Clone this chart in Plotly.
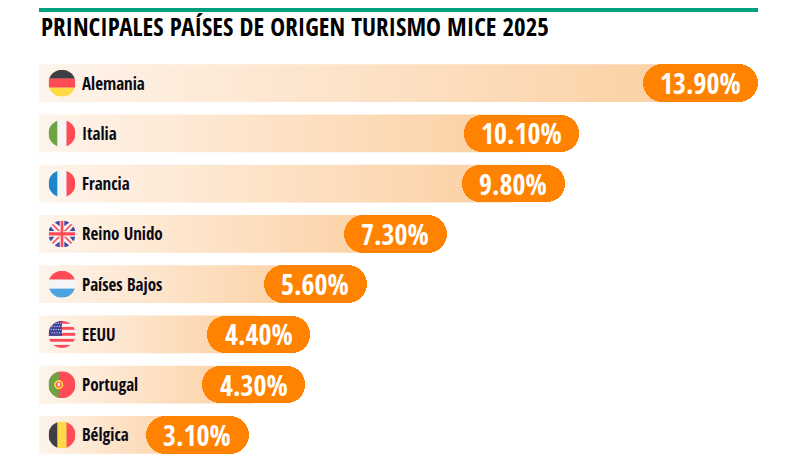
import base64
import plotly.graph_objects as go

# data
countries = ["Alemania", "Italia", "Francia", "Reino Unido", "Países Bajos", "EEUU", "Portugal", "Bélgica"]
shares = [13.9, 10.1, 9.8, 7.3, 5.6, 4.4, 4.3, 3.1]
flag_codes = ["de", "it", "fr", "gb", "nl", "us", "pt", "be"]
title = "PRINCIPALES PAÍSES DE ORIGEN TURISMO MICE 2025"

FONT = "Open Sans Condensed, Roboto Condensed, DejaVu Sans Condensed, sans-serif"
ORANGE = "#FF8200"
GREEN = "#00A07E"

# the page body adds an 8px offset, margins compensate for it
W, H = 800, 460
M_L, M_R, M_T, M_B = 31, 50, 50, 8
plot_w = W - M_L - M_R
plot_h = H - M_T - M_B
x_min = -1.35
x_max = max(shares)
px_per_unit = plot_w / (x_max - x_min)
half = 0.375  # half bar thickness in row units

R, WH, DK, YE, GR, BL, LB, NV = "#FF4B55", "#F5F5F5", "#3D3F45", "#FFDA44", "#6DA544", "#1E86CC", "#4BA3E0", "#41479B"


def stripes_h(cols):
    h = 100 / len(cols)
    return "".join(f'<rect x="0" y="{i*h}" width="100" height="{h+0.5}" fill="{c}"/>' for i, c in enumerate(cols))


def stripes_v(cols):
    w = 100 / len(cols)
    return "".join(f'<rect x="{i*w}" y="0" width="{w+0.5}" height="100" fill="{c}"/>' for i, c in enumerate(cols))


def flag_body(code):
    if code == "de":
        return stripes_h([DK, R, YE])
    if code == "it":
        return stripes_v([GR, WH, R])
    if code == "fr":
        return stripes_v([BL, WH, R])
    if code == "nl":
        return stripes_h([R, WH, LB])
    if code == "be":
        return stripes_v([DK, YE, R])
    if code == "pt":
        return (f'<rect width="100" height="100" fill="{R}"/><rect width="38" height="100" fill="{GR}"/>'
                f'<circle cx="38" cy="50" r="17" fill="{YE}"/><circle cx="38" cy="50" r="11" fill="{R}"/>'
                f'<rect x="33" y="43" width="10" height="13" fill="{WH}"/>')
    if code == "us":
        s = "".join(f'<rect x="0" y="{i*100/9}" width="100" height="{100/9}" fill="{R if i % 2 == 0 else WH}"/>' for i in range(9))
        s += f'<rect x="0" y="0" width="50" height="{500/9}" fill="{NV}"/>'
        for r in range(4):
            for c in range(5):
                s += f'<circle cx="{10 + c*9 + (r % 2)*4}" cy="{8 + r*12}" r="2.2" fill="{WH}"/>'
        return s
    if code == "gb":
        return (f'<rect width="100" height="100" fill="{WH}"/>'
                f'<polygon points="12,0 42,0 42,22" fill="{NV}"/><polygon points="58,0 88,0 58,22" fill="{NV}"/>'
                f'<polygon points="12,100 42,100 42,78" fill="{NV}"/><polygon points="58,100 88,100 58,78" fill="{NV}"/>'
                f'<polygon points="0,12 0,40 22,40" fill="{NV}"/><polygon points="100,12 100,40 78,40" fill="{NV}"/>'
                f'<polygon points="0,60 0,88 22,60" fill="{NV}"/><polygon points="100,60 100,88 78,60" fill="{NV}"/>'
                f'<line x1="0" y1="0" x2="100" y2="100" stroke="{R}" stroke-width="6"/>'
                f'<line x1="100" y1="0" x2="0" y2="100" stroke="{R}" stroke-width="6"/>'
                f'<rect x="42" y="0" width="16" height="100" fill="{WH}"/><rect x="0" y="40" width="100" height="20" fill="{WH}"/>'
                f'<rect x="45" y="0" width="10" height="100" fill="{R}"/><rect x="0" y="44" width="100" height="12" fill="{R}"/>')
    return ""


def flag_uri(code):
    svg = ('<svg xmlns="http://www.w3.org/2000/svg" viewBox="0 0 100 100">'
           '<defs><clipPath id="c"><circle cx="50" cy="50" r="50"/></clipPath></defs>'
           f'<g clip-path="url(#c)">{flag_body(code)}</g></svg>')
    return "data:image/svg+xml;base64," + base64.b64encode(svg.encode()).decode()


labels = [f"{v:.2f}%" for v in shares]
pill_units = [(43 + 12 * len(t)) / px_per_unit for t in labels]
rows = list(range(len(countries)))

fig = go.Figure()

# gradient background bars
for i, v in enumerate(shares):
    end = v - pill_units[i] / 2
    fig.add_trace(go.Scatter(
        x=[x_min, end, end, x_min, x_min],
        y=[i - half, i - half, i + half, i + half, i - half],
        mode="lines", fill="toself", line=dict(width=0),
        fillgradient=dict(type="horizontal", colorscale=[[0, "#FEF4EB"], [1, "#FCCFA0"]]),
        hoverinfo="skip", showlegend=False,
    ))

# orange pills at the end of each bar, on an overlaid axis pair so they sit above the gradient
fig.add_trace(go.Bar(
    y=rows, x=pill_units,
    base=[v - w for v, w in zip(shares, pill_units)],
    orientation="h", width=2 * half, xaxis="x2", yaxis="y2",
    marker=dict(color=ORANGE, cornerradius="50%", line=dict(width=0)),
    hoverinfo="skip", showlegend=False,
))

for i, (name, v, t, w, code) in enumerate(zip(countries, shares, labels, pill_units, flag_codes)):
    fig.add_annotation(x=v - w / 2, y=i, text=f"<b>{t}</b>", showarrow=False,
                       font=dict(family=FONT, size=28, color="white"), xanchor="center", yanchor="middle")
    fig.add_annotation(x=(80 - 8 - M_L) / plot_w, xref="paper", y=i, text=f"<b>{name}</b>", showarrow=False,
                       font=dict(family=FONT, size=17, color="#0B0B18"), xanchor="left", yanchor="middle")
    fig.add_layout_image(source=flag_uri(code), xref="paper", yref="y",
                         x=(62 - 8 - M_L) / plot_w, y=i, sizex=27 / plot_w, sizey=27 / plot_h * len(countries),
                         xanchor="center", yanchor="middle", sizing="contain", layer="above")

fig.add_annotation(x=0, xref="paper", y=1 + (M_T - 18) / plot_h, yref="paper", text=f"<b>{title}</b>",
                   showarrow=False, xanchor="left", yanchor="middle",
                   font=dict(family=FONT, size=25, color="black"))
fig.add_shape(type="rect", xref="paper", yref="paper", x0=0, x1=1,
              y0=1 + (M_T - 4) / plot_h, y1=1 + M_T / plot_h, fillcolor=GREEN, line=dict(width=0))

ax_x = dict(range=[x_min, x_max], visible=False, fixedrange=True)
ax_y = dict(range=[len(countries) - 0.5, -0.5], visible=False, fixedrange=True)
fig.update_layout(
    width=W, height=H, margin=dict(l=M_L, r=M_R, t=M_T, b=M_B),
    paper_bgcolor="white", plot_bgcolor="white",
    xaxis=ax_x, yaxis=ax_y,
    xaxis2=dict(ax_x, overlaying="x"), yaxis2=dict(ax_y, overlaying="y"),
    bargap=0,
)

fig.write_html("out.html")
